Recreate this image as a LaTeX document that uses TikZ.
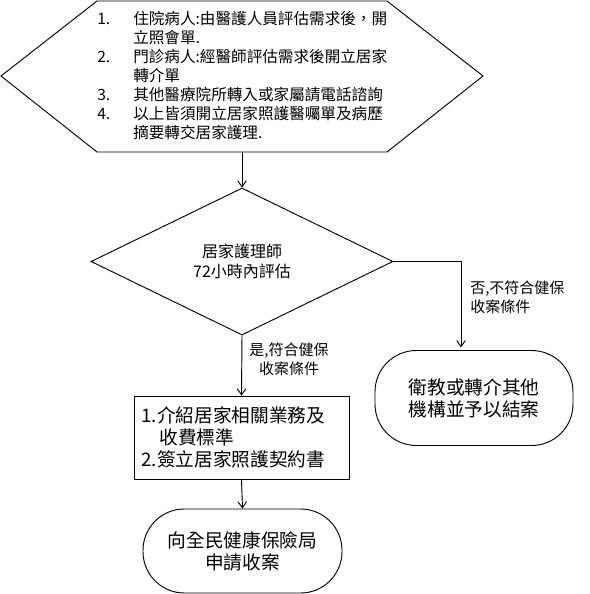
\documentclass[tikz,border=0pt]{standalone}
\usepackage{fontspec}
\setmainfont{Noto Sans CJK TC}
\usetikzlibrary{shapes.geometric,arrows.meta}
\tikzset{
  ln/.style={line width=0.7pt},
  arr/.style={ln,-{Straight Barb[length=4.5pt,width=6.5pt,line width=0.7pt]}},
  roundbox/.style={ln,draw,rounded corners=31pt,inner sep=0pt,align=center,font=\fontsize{14pt}{16.5pt}\selectfont},
  rectbox/.style={ln,draw,inner sep=0pt,align=left,font=\fontsize{14pt}{16.5pt}\selectfont},
  lbl/.style={inner sep=0pt,font=\fontsize{11.25pt}{14pt}\selectfont},
}
\begin{document}
\begin{tikzpicture}[x=0.75pt,y=-0.75pt]
\useasboundingbox (0,0) rectangle (590,594);
% hexagon
\draw[ln] (1,76) -- (97,1) -- (387,1) -- (483,76) -- (387,152) -- (97,152) -- cycle;
\coordinate (hexb) at (242,152);
\node[anchor=west,inner sep=0pt,font=\fontsize{11.7pt}{14.3pt}\selectfont] (hextext) at (97,77.5) {%
\begin{tabular}{@{}p{27pt}@{}l@{}}
1. & 住院病人:由醫護人員評估需求後，開\\
   & 立照會單.\\
2. & 門診病人:經醫師評估需求後開立居家\\
   & 轉介單\\
3. & 其他醫療院所轉入或家屬請電話諮詢\\
4. & 以上皆須開立居家照護醫囑單及病歷\\
   & 摘要轉交居家護理.
\end{tabular}};
% diamond
\node[ln,draw,diamond,inner sep=0pt,minimum width=226.5pt,minimum height=110.25pt,align=center,font=\fontsize{12pt}{14.5pt}\selectfont] (dia) at (242,261.5) {居家護理師\\72小時內評估};
% right rounded box
\node[roundbox,minimum width=148.5pt,minimum height=71.25pt] (nobox) at (474,398) {衛教或轉介其他\\機構並予以結案};
% middle rectangle
\node[rectbox,minimum width=161.25pt,minimum height=62.25pt,text width=150pt] (midbox) at (241.5,437.5) {1.介紹居家相關業務及\\\hspace*{13.5pt}收費標準\\2.簽立居家照護契約書};
% bottom rounded box
\node[roundbox,minimum width=149.25pt,minimum height=63pt] (endbox) at (242.5,551) {向全民健康保險局\\申請收案};
% connectors
\draw[arr] (hexb) -- (dia.north);
\draw[arr,shorten >=2pt] (dia.east) -| ([xshift=-9.75pt]nobox.north);
\draw[arr] (dia.south) -- (midbox.north);
\draw[arr] (midbox.south) -- (endbox.north);
% labels
\node[lbl,anchor=west,align=left] (nolbl) at (470,297.5) {否,不符合健保\\收案條件};
\node[lbl,align=center] (yeslbl) at (289,359) {是,符合健保\\收案條件};
\end{tikzpicture}
\end{document}
